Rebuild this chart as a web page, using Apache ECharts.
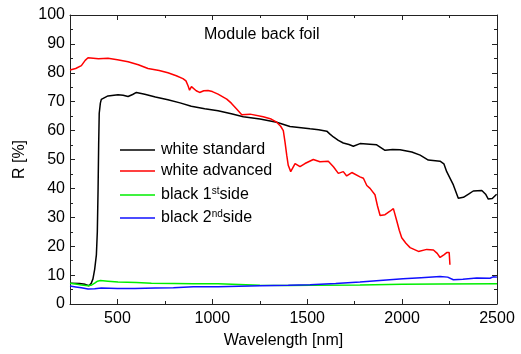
<!DOCTYPE html>
<html>
<head>
<meta charset="utf-8">
<script src="https://cdn.jsdelivr.net/npm/echarts@6/dist/echarts.min.js"></script>
<style>html,body{margin:0;padding:0;background:#fff}#c{width:521px;height:354px}</style>
</head>
<body>
<div id="c"></div>
<script>
// ---- data ----
const seriesNames = ['white standard', 'white advanced', 'black 1st side', 'black 2nd side'];

const stdX = [250,300,330,350,362,371,380,389,394,398,401,404,410,415,424,450,503,530,556,580,600,644,700,766,830,889,960,1030,1100,1163,1251,1339,1409,1515,1560,1603,1620,1638,1664,1690,1720,1743,1778,1830,1866,1910,1950,1989,2051,2095,2138,2200,2220,2235,2270,2296,2323,2350,2375,2420,2440,2454,2475,2498];
const stdY = [7.2,7.1,6.8,6.3,7.2,8.7,12,17,25,40,55,66,69.5,70.8,71.3,72.0,72.4,72.2,71.8,72.5,73.2,72.6,71.6,70.7,69.6,68.4,67.6,66.9,65.8,64.8,64.0,62.9,61.4,60.6,60.3,59.8,58.8,57.8,56.6,55.7,55.2,54.6,55.5,55.3,55.1,53.2,53.5,53.4,52.6,51.5,49.8,49.4,48.5,45.8,41.2,36.6,36.9,38.0,39.1,39.3,38.0,36.3,36.5,38.0];

const advX = [250,280,310,330,345,400,450,500,556,610,661,720,766,810,845,861,872,880,890,900,915,933,955,977,1000,1030,1076,1100,1128,1155,1199,1268,1310,1339,1360,1374,1383,1392,1400,1413,1436,1462,1488,1532,1567,1611,1638,1664,1690,1708,1735,1778,1796,1814,1831,1857,1870,1884,1910,1936,1954,1972,1985,1998,2020,2042,2086,2130,2165,2185,2200,2220,2235,2248,2252];
const advY = [81.0,81.5,82.5,84.3,85.2,84.9,85.0,84.5,83.8,82.8,81.5,80.8,80.0,79.0,78.0,77.2,75.5,74.0,75.2,75.0,73.8,73.2,73.8,73.9,73.5,72.6,70.9,69.5,67.5,65.5,65.7,64.8,64.0,62.9,61.5,60.0,56.0,51.5,48.0,45.8,48.6,47.5,48.6,50.0,49.2,49.4,47.5,45.2,45.8,44.3,45.5,44.0,43.5,41.0,40.0,37.8,34.0,30.6,30.9,32.1,33.0,28.7,25.5,22.9,21.0,19.5,18.2,18.9,18.7,17.5,16.1,17.0,17.8,17.8,13.6];

const b1X = [250,280,310,345,365,380,395,410,450,503,600,679,800,900,1030,1251,1400,1515,1778,2000,2200,2500];
const b1Y = [7.2,6.9,6.6,6.3,6.6,7.2,7.9,8.1,7.9,7.6,7.4,7.2,7.1,7.0,7.0,6.5,6.4,6.5,6.6,6.8,6.9,7.0];

const b2X = [250,280,310,345,380,415,500,591,700,795,805,900,1030,1251,1400,1515,1650,1778,1900,2005,2100,2200,2240,2270,2320,2393,2463,2480,2490,2500];
const b2Y = [6.2,5.9,5.6,5.2,5.3,5.5,5.4,5.4,5.5,5.6,5.9,6.0,6.0,6.3,6.5,6.7,7.1,7.6,8.2,8.7,9.1,9.5,9.3,8.4,8.6,9.0,8.9,9.4,9.8,9.3];

const xMin = 250, xMax = 2500, xMinorStep = 250;
const yMin = 0, yMax = 100, yStep = 10;

// ---- chart ----
const zip = (xs, ys) => xs.map((x, i) => [x, ys[i]]);
const FONT = '"Liberation Sans", Arial, sans-serif';
const colors = ['#000000', '#ff0000', '#00ee00', '#1010ff'];
const seriesData = [zip(stdX, stdY), zip(advX, advY), zip(b1X, b1Y), zip(b2X, b2Y)];
const legendTops = [142, 163, 186, 209];

const chart = echarts.init(document.getElementById('c'), null, {renderer: 'canvas'});

const axisLineStyle = {lineStyle: {color: '#222', width: 1}};
function xAx(pos, major, labels) {
  const a = {
    type: 'value', min: xMin, max: xMax, position: pos, gridIndex: 0,
    axisLine: {show: major, onZero: false, ...axisLineStyle},
    axisTick: {show: true, inside: true, length: major ? 5 : 3, lineStyle: {color: '#222'}},
    axisLabel: {show: labels, showMinLabel: false, margin: 7, color: '#000', fontSize: 16, fontFamily: FONT,
      formatter: (v) => String(v)},
    splitLine: {show: false}
  };
  if (!major) a.interval = xMinorStep;
  if (labels) {
    a.name = 'Wavelength [nm]';
    a.nameLocation = 'middle';
    a.nameGap = 29;
    a.nameTextStyle = {color: '#000', fontSize: 16, fontFamily: FONT};
  }
  return a;
}
function yAx(pos, labels) {
  const a = {
    type: 'value', min: yMin, max: yMax, interval: yStep, position: pos, gridIndex: 0,
    axisLine: {show: true, onZero: false, ...axisLineStyle},
    axisTick: {show: true, inside: true, length: 5, lineStyle: {color: '#222'}},
    minorTick: {show: true, splitNumber: 2, length: 3, lineStyle: {color: '#222'}},
    axisLabel: {show: labels, margin: 5, color: '#000', fontSize: 16, fontFamily: FONT},
    splitLine: {show: false}
  };
  if (labels) {
    a.name = 'R [%]';
    a.nameLocation = 'middle';
    a.nameGap = 34;
    a.nameTextStyle = {color: '#000', fontSize: 16, fontFamily: FONT};
  }
  return a;
}

const legendFmt = (name) => {
  const m = name.match(/^(black \d)(st|nd) (side)$/);
  if (m) return '{n|' + m[1] + '}{s|' + m[2] + '}{n|' + m[3] + '}';
  return '{n|' + name + '}';
};

const option = {
  animation: false,
  backgroundColor: '#fff',
  grid: {left: 70, right: 24, top: 15, bottom: 47, containLabel: false},
  title: {
    text: 'Module back foil', left: 204, top: 27, padding: 0,
    textStyle: {color: '#000', fontSize: 16, fontWeight: 'normal', fontFamily: FONT}
  },
  legend: seriesNames.map((nm, i) => ({
    data: [{name: nm, icon: 'rect', itemStyle: {color: colors[i]}}],
    orient: 'vertical', left: 120, top: legendTops[i],
    itemWidth: 35, itemHeight: 1.5, itemGap: 0, padding: 0, selectedMode: false,
    formatter: legendFmt,
    textStyle: {
      color: '#000', fontSize: 16, fontFamily: FONT, padding: [0, 0, 0, 1],
      rich: {
        n: {fontSize: 16, fontFamily: FONT, color: '#000', lineHeight: 18},
        s: {fontSize: 10, fontFamily: FONT, color: '#000', verticalAlign: 'top', lineHeight: 10}
      }
    }
  })),
  xAxis: [xAx('bottom', true, true), xAx('bottom', false, false), xAx('top', true, false), xAx('top', false, false)],
  yAxis: [yAx('left', true), yAx('right', false)],
  series: seriesNames.map((nm, i) => ({
    name: nm, type: 'line', xAxisIndex: 0, yAxisIndex: 0,
    data: seriesData[i], symbol: 'none', showSymbol: false, smooth: false,
    lineStyle: {color: colors[i], width: 1.5}, itemStyle: {color: colors[i]},
    z: 2 + i
  }))
};
chart.setOption(option);
</script>
</body>
</html>
